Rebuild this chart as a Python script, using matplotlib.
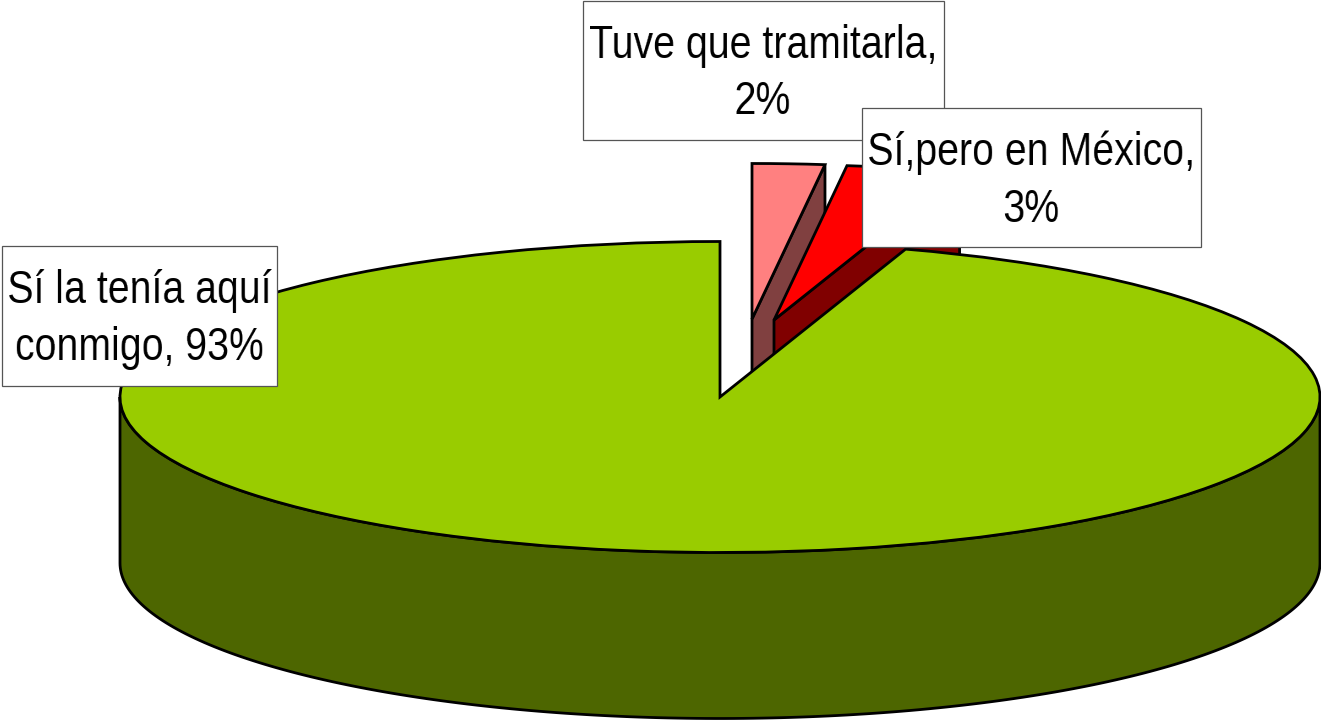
import numpy as np
import matplotlib
matplotlib.use("Agg")
import matplotlib.pyplot as plt
from matplotlib.patches import Wedge, Polygon, Rectangle
from matplotlib.transforms import Affine2D

categories = ["Tuve que tramitarla", "Sí,pero en México", "Sí la tenía aquí conmigo"]
values = [1.9, 3.0, 93]
labels = ["Tuve que tramitarla,\n2%", "Sí,pero en México,\n3%", "Sí la tenía aquí\nconmigo, 93%"]
top_colors = ["#FF8080", "#FF0000", "#99CC00"]
side_colors = ["#804040", "#800000", "#4D6600"]

# layout (pixels)
W, H = 1321, 720
RX, RY, DEPTH = 600, 155.5, 166
centers = [(752, 319), (774, 320), (720, 397)]
boxes = [(583, 1, 361, 139), (862, 108, 339, 139), (2, 246, 275, 140)]
text_shift = [0, 0, 60]  # drawn further right, moved back after condensing, to avoid canvas clipping
SQUEEZE = 0.845

plt.rcParams["font.family"] = ["Liberation Sans", "DejaVu Sans"]
fig = plt.figure(figsize=(W / 100, H / 100), dpi=100)
ax = fig.add_axes([0, 0, 1, 1])
ax.set_xlim(0, W)
ax.set_ylim(H, 0)
ax.axis("off")

LW = 2.0
total = sum(values)
angles = np.cumsum([0] + [v / total * 360 for v in values])


def pt(c, clock_deg, dy=0):
    a = np.radians(clock_deg)
    return c[0] + RX * np.sin(a), c[1] - RY * np.cos(a) + dy


def narrow(shift):
    """Condense a text's pixels horizontally (no narrow font is installed)."""
    def apply(img, dpi):
        h, w = img.shape[:2]
        new_w = max(1, int(round(w * SQUEEZE)))
        xs = np.clip((np.arange(new_w) + 0.5) / SQUEEZE - 0.5, 0, w - 1)
        i0 = np.floor(xs).astype(int)
        i1 = np.minimum(i0 + 1, w - 1)
        f = (xs - i0)[None, :, None]
        out = img[:, i0] * (1 - f) + img[:, i1] * f
        return out, (w - new_w) // 2 - shift, 0
    return apply


z = 1
for i in range(3):
    c = centers[i]
    start, end = angles[i], angles[i + 1]
    if i < 2:
        p = pt(c, end)
        pts = [c, p, (p[0], p[1] + DEPTH), (c[0], c[1] + DEPTH)]
    else:
        arc = np.linspace(90, 270, 200)
        top = [pt(c, t) for t in arc]
        bottom = [pt(c, t, DEPTH) for t in arc[::-1]]
        pts = top + bottom
    ax.add_patch(Polygon(pts, closed=True, facecolor=side_colors[i], edgecolor="black",
                         linewidth=LW, zorder=z))
    # math angles for a clockwise pie that starts at 12 o'clock
    th1, th2 = 90 - end, 90 - start
    tr = Affine2D().scale(RX, -RY).translate(*c) + ax.transData
    ax.add_patch(Wedge((0, 0), 1, th1, th2, facecolor=top_colors[i], edgecolor="black",
                       linewidth=LW, transform=tr, zorder=z + 1))
    z += 2

for j, (box, lab) in enumerate(zip(boxes, labels)):
    x, y, w, h = box
    ax.add_patch(Rectangle((x, y), w, h, facecolor="white", edgecolor="#555555",
                           linewidth=0.9, zorder=10 + j))
    t = ax.text(x + w / 2 + text_shift[j], y + h / 2 + 3.5, lab, ha="center", va="center",
                fontsize=33.5, linespacing=1.38, color="black", zorder=10 + j + 0.5)
    t.set_agg_filter(narrow(text_shift[j]))

fig.savefig("out.png", dpi=100, facecolor="white")
